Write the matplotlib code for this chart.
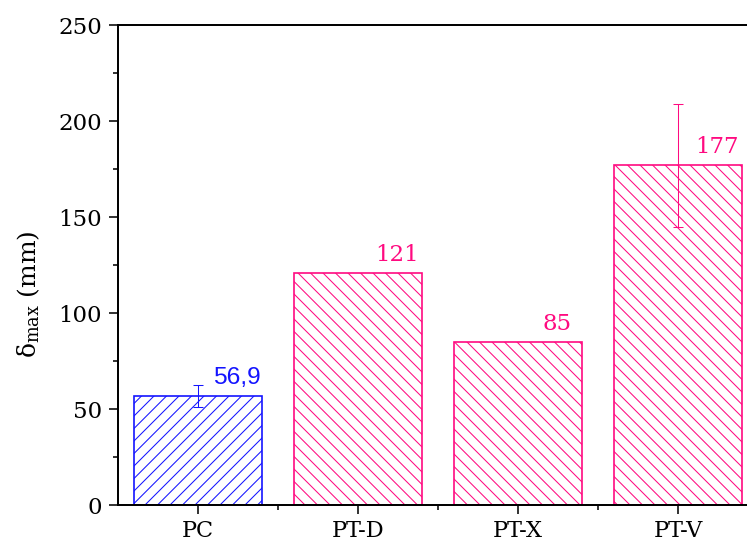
import matplotlib
matplotlib.use("Agg")
import matplotlib.pyplot as plt
import numpy as np
from matplotlib.ticker import MultipleLocator, FixedLocator

# dados
amostras = ["PC", "PT-D", "PT-X", "PT-V"]
deslocamento = [56.9, 121, 85, 177]
erro = [5.7, 0, 0, 32]
rotulos = ["56,9", "121", "85", "177"]
cores = ["#1414FF", "#FF0A80", "#FF0A80", "#FF0A80"]
hachuras = ["//", "\\\\", "\\\\", "\\\\"]
fontes = ["Liberation Sans", "DejaVu Serif", "DejaVu Serif", "DejaVu Serif"]

plt.rcParams["mathtext.fontset"] = "dejavuserif"
plt.rcParams["hatch.linewidth"] = 1.0

dpi = 75
fig = plt.figure(figsize=(747 / dpi, 546 / dpi), dpi=dpi)
ax = fig.add_axes([118 / 747, 41 / 546, 640 / 747, 480 / 546])

x = np.arange(len(amostras))
for i in range(len(amostras)):
    ax.bar(x[i], deslocamento[i], width=0.8, color="white", edgecolor=cores[i],
           hatch=hachuras[i], linewidth=1.6, zorder=2)
    if erro[i] > 0:
        ax.errorbar(x[i], deslocamento[i], yerr=erro[i], color=cores[i],
                    capsize=5, elinewidth=1.0, capthick=1.0, zorder=3)
    tam = 23.5 if fontes[i] == "Liberation Sans" else 22
    ax.annotate(rotulos[i], (x[i], deslocamento[i]), xytext=(39, 12),
                textcoords="offset pixels", ha="center", va="baseline",
                color=cores[i], fontsize=tam, family=fontes[i])

ax.set_xlim(-0.5, 3.5)
ax.set_ylim(0, 250)
ax.set_xticks(x)
ax.set_xticklabels(amostras, family="DejaVu Serif", fontsize=21.5)
ax.xaxis.set_minor_locator(FixedLocator([0.5, 1.5, 2.5]))
ax.yaxis.set_major_locator(MultipleLocator(50))
ax.yaxis.set_minor_locator(MultipleLocator(25))
for t in ax.get_yticklabels():
    t.set_family("DejaVu Serif")
    t.set_fontsize(22)

ax.tick_params(which="major", direction="out", length=8.5, width=1.5, pad=7)
ax.tick_params(which="minor", direction="out", length=4.5, width=1.5)
ax.tick_params(axis="x", which="major", pad=6)
for s in ax.spines.values():
    s.set_linewidth(1.9)

ax.set_ylabel("δ$_{\\mathrm{max}}$ (mm)", family="DejaVu Serif", fontsize=24)
ax.yaxis.set_label_coords(-0.118, 0.44)

fig.savefig("out.png", dpi=dpi)
